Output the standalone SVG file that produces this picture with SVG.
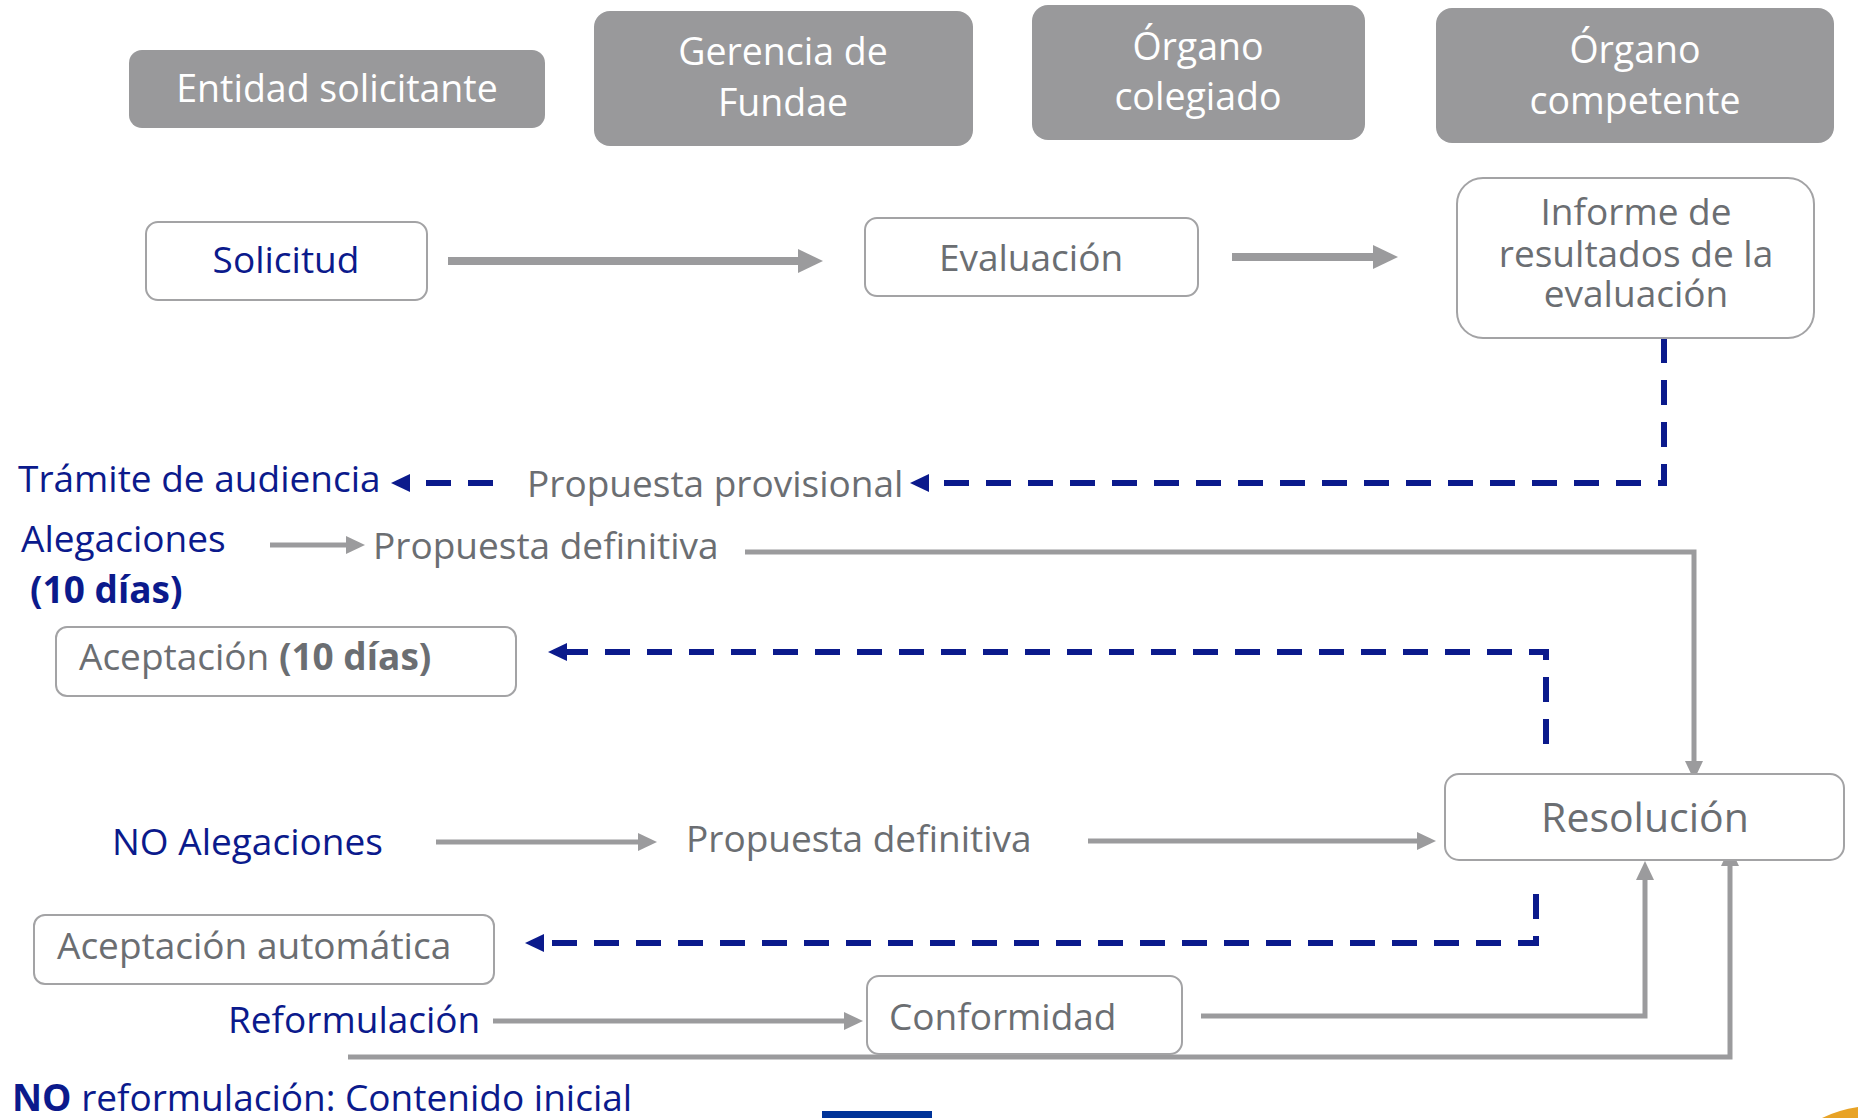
<svg xmlns="http://www.w3.org/2000/svg" width="1858" height="1118" viewBox="0 0 1858 1118">
<style>
  text { font-family: "Open Sans", "Noto Sans", "DejaVu Sans", sans-serif; font-size: 37px; }
  .hdr rect { fill: #99999b; }
  .hdr text { fill: #ffffff; text-anchor: middle; font-size: 37.5px; }
  .box { fill: #ffffff; stroke: #a3a3a5; stroke-width: 2; }
  .gt { fill: #6b6e72; }
  .bt { fill: #0b1a8c; }
  .b { font-weight: bold; }
  .mid { text-anchor: middle; }
  .g8 { fill: none; stroke: #9b9b9d; stroke-width: 8; }
  .g5 { fill: none; stroke: #9b9b9d; stroke-width: 5; }
  .bd { fill: none; stroke: #0b1a8c; stroke-width: 6; stroke-dasharray: 25 17; }
</style>
<defs>
  <marker id="agb" markerUnits="userSpaceOnUse" markerWidth="26" markerHeight="24" viewBox="-1 0 26 24" refX="0" refY="12" orient="auto" overflow="visible">
    <path d="M-1,0 L24,12 L-1,24 Z" fill="#9b9b9d"/>
  </marker>
  <marker id="ags" markerUnits="userSpaceOnUse" markerWidth="20" markerHeight="18" viewBox="-1 0 20 18" refX="0" refY="9" orient="auto" overflow="visible">
    <path d="M-1,0 L18,9 L-1,18 Z" fill="#9b9b9d"/>
  </marker>
  <marker id="ab" markerUnits="userSpaceOnUse" markerWidth="20" markerHeight="18" viewBox="-1 0 20 18" refX="0" refY="9" orient="auto" overflow="visible">
    <path d="M-1,0 L18,9 L-1,18 Z" fill="#0b1a8c"/>
  </marker>
</defs>
<rect x="0" y="0" width="1858" height="1118" fill="#ffffff"/>

<!-- Header lanes -->
<g id="lane-entidad" class="hdr">
  <rect x="129" y="50" width="416" height="78" rx="13"/>
  <text x="337" y="102">Entidad solicitante</text>
</g>
<g id="lane-gerencia" class="hdr">
  <rect x="594" y="11" width="379" height="135" rx="16"/>
  <text x="783" y="65">Gerencia de</text>
  <text x="783" y="116">Fundae</text>
</g>
<g id="lane-colegiado" class="hdr">
  <rect x="1032" y="5" width="333" height="135" rx="16"/>
  <text x="1198" y="60">Órgano</text>
  <text x="1198" y="110">colegiado</text>
</g>
<g id="lane-competente" class="hdr">
  <rect x="1436" y="8" width="398" height="135" rx="16"/>
  <text x="1635" y="63">Órgano</text>
  <text x="1635" y="114">competente</text>
</g>

<!-- Connectors -->
<g id="connectors">
  <line class="g8" x1="448" y1="261" x2="799" y2="261" marker-end="url(#agb)"/>
  <line class="g8" x1="1232" y1="257" x2="1374" y2="257" marker-end="url(#agb)"/>
  <polyline class="bd" points="1664,338 1664,483 928,483" marker-end="url(#ab)"/>
  <line class="bd" x1="493" y1="483" x2="409" y2="483" marker-end="url(#ab)"/>
  <line class="g5" x1="270" y1="545" x2="347" y2="545" marker-end="url(#ags)"/>
  <polyline class="g5" points="745,552 1694,552 1694,762" marker-end="url(#ags)"/>
  <polyline class="bd" points="1546,744 1546,652 566,652" marker-end="url(#ab)"/>
  <line class="g5" x1="436" y1="842" x2="639" y2="842" marker-end="url(#ags)"/>
  <line class="g5" x1="1088" y1="841" x2="1418" y2="841" marker-end="url(#ags)"/>
  <polyline class="bd" points="1536,894 1536,943 543,943" marker-end="url(#ab)"/>
  <line class="g5" x1="493" y1="1021" x2="845" y2="1021" marker-end="url(#ags)"/>
  <polyline class="g5" points="1201,1016 1645,1016 1645,879" marker-end="url(#ags)"/>
  <polyline class="g5" points="348,1057 1730,1057 1730,865" marker-end="url(#ags)"/>
</g>

<!-- Nodes -->
<g id="solicitud">
  <rect class="box" x="146" y="222" width="281" height="78" rx="12"/>
  <text class="bt mid" x="286" y="273">Solicitud</text>
</g>
<g id="evaluacion">
  <rect class="box" x="865" y="218" width="333" height="78" rx="12"/>
  <text class="gt mid" x="1031" y="271">Evaluación</text>
</g>
<g id="informe">
  <rect class="box" x="1457" y="178" width="357" height="160" rx="26"/>
  <text class="gt mid" x="1636" y="225">Informe de</text>
  <text class="gt mid" x="1636" y="267">resultados de la</text>
  <text class="gt mid" x="1636" y="307">evaluación</text>
</g>
<g id="tramite">
  <text class="bt" x="18" y="492">Trámite de audiencia</text>
</g>
<g id="propuesta-provisional">
  <text class="gt" x="527" y="497">Propuesta provisional</text>
</g>
<g id="alegaciones">
  <text class="bt" x="21" y="552">Alegaciones</text>
  <text class="bt b" x="30" y="603">(10 días)</text>
</g>
<g id="propuesta-definitiva-1">
  <text class="gt" x="373" y="559">Propuesta definitiva</text>
</g>
<g id="aceptacion">
  <rect class="box" x="56" y="627" width="460" height="69" rx="11"/>
  <text class="gt" x="79" y="670">Aceptación <tspan class="b">(10 días)</tspan></text>
</g>
<g id="resolucion">
  <rect class="box" x="1445" y="774" width="399" height="86" rx="14"/>
  <text class="gt mid" x="1645" y="832" style="font-size:41px">Resolución</text>
</g>
<g id="no-alegaciones">
  <text class="bt" x="112" y="855">NO Alegaciones</text>
</g>
<g id="propuesta-definitiva-2">
  <text class="gt" x="686" y="852">Propuesta definitiva</text>
</g>
<g id="aceptacion-automatica">
  <rect class="box" x="34" y="915" width="460" height="69" rx="11"/>
  <text class="gt" x="57" y="959">Aceptación automática</text>
</g>
<g id="reformulacion">
  <text class="bt" x="228" y="1033">Reformulación</text>
</g>
<g id="conformidad">
  <rect class="box" x="867" y="976" width="315" height="78" rx="12"/>
  <text class="gt" x="889" y="1030">Conformidad</text>
</g>
<g id="no-reformulacion">
  <text class="bt" x="12" y="1111"><tspan class="b">NO</tspan> reformulación: Contenido inicial</text>
</g>

<!-- footer decorations -->
<rect x="822" y="1111" width="110" height="7" fill="#003399"/>
<path d="M1822,1118 Q1838,1110 1858,1107 L1858,1118 Z" fill="#e8a326"/>
</svg>
